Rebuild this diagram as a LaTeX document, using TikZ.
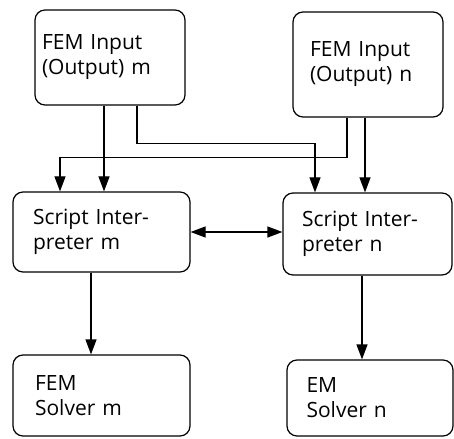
\documentclass[tikz,border=0pt]{standalone}
\usepackage{fontspec}
\setmainfont{Open Sans}
\usepackage{tikz}
\usetikzlibrary{arrows.meta}

\begin{document}
\begin{tikzpicture}[
    x=1pt, y=-1pt,
    box/.style={draw, line width=1.2pt, rounded corners=10pt, align=left,
        font=\fontsize{21}{25}\selectfont, inner sep=0pt},
    arr/.style={-{Triangle[length=15pt,width=11pt]}, line width=1.2pt}
]
\useasboundingbox (0,0) rectangle (454,438);

\node[box, minimum width=150pt, minimum height=95pt, text width=136pt] (inm) at (110,57.5) {FEM Input\\(Output) m};
\node[box, minimum width=150pt, minimum height=105pt, text width=116pt] (inn) at (368,64.5) {FEM Input\\(Output) n};

\node[box, minimum width=177pt, minimum height=80pt, text width=137pt] (scrm) at (101.5,232) {Script Inter-\\preter m};
\node[box, minimum width=169pt, minimum height=82pt, text width=131pt] (scrn) at (367.5,234) {Script Inter-\\preter n};

\node[box, minimum width=177pt, minimum height=81pt, text width=133pt] (solm) at (101.5,395.5) {FEM\\Solver m};
\node[box, minimum width=166pt, minimum height=76pt, text width=127pt] (soln) at (370,398) {EM\\Solver n};

\draw[arr] ([xshift=-6pt]inm.south) -- ([xshift=-6pt]inm.south |- scrm.north);
\draw[arr] ([xshift=27pt]inm.south) -- ++(0,38) -| ([xshift=-52.5pt]scrn.north);
\draw[arr] ([xshift=-21pt]inn.south) -- ++(0,40) -| ([xshift=-41.5pt]scrm.north);
\draw[arr] ([xshift=-3pt]inn.south) -- ([xshift=-3pt]inn.south |- scrn.north);
\draw[arr, {Triangle[length=15pt,width=11pt]}-{Triangle[length=15pt,width=11pt]}] (scrm.east) -- (scrm.east -| scrn.west);
\draw[arr] ([xshift=-10.5pt]scrm.south) -- ([xshift=-10.5pt]scrm.south |- solm.north);
\draw[arr] ([xshift=-5.5pt]scrn.south) -- ([xshift=-5.5pt]scrn.south |- soln.north);
\end{tikzpicture}
\end{document}
